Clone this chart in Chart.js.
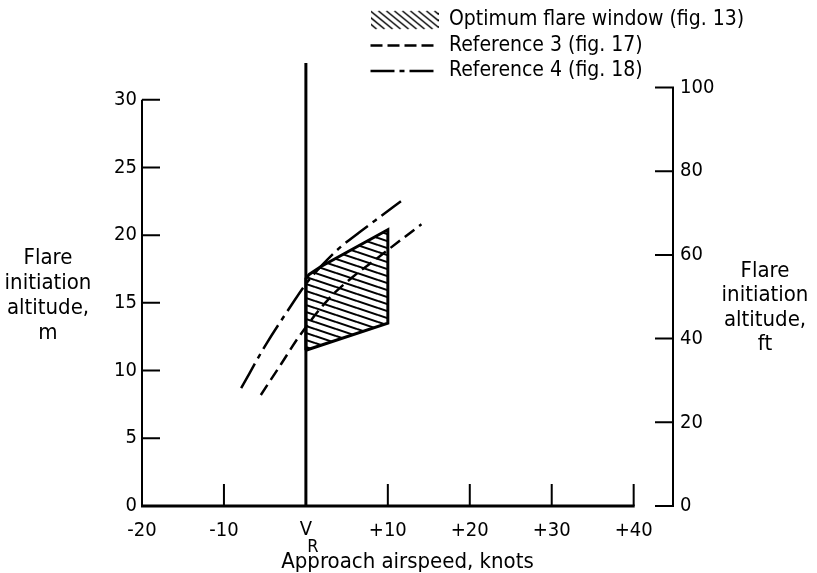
<!DOCTYPE html>
<html>
<head>
<meta charset="utf-8">
<script src="https://cdn.jsdelivr.net/npm/chart.js@4"></script>
<style>
  html, body { margin: 0; padding: 0; background: #fff; }
  #wrap { width: 817px; height: 573px; }
</style>
</head>
<body>
<div id="wrap"><canvas id="flare"></canvas></div>
<script>
// airspeed relative to V_R, knots / flare initiation altitude, m
var speedTicks = [-20, -10, 0, 10, 20, 30, 40];
var altMTicks = [0, 5, 10, 15, 20, 25, 30];
var altFtTicks = [0, 20, 40, 60, 80, 100];

var windowSpeed = [0, 0, 0.4, 1.9, 10, 10, 0];
var windowAlt = [11.5, 16.8, 17.1, 17.7, 20.4, 13.5, 11.5];

var ref3Speed = [-5.5, -3, -0.85, 2.8, 6.1, 8.5, 11.7, 14.1];
var ref3Alt = [8.2, 10.5, 12.5, 15.3, 17.1, 18.2, 19.7, 20.8];

var ref4Speed = [-7.9, -4.9, -1.8, 0, 2, 4, 6.5, 8.5, 11.6];
var ref4Alt = [8.7, 11.9, 14.8, 16.4, 17.8, 19.0, 20.2, 21.1, 22.5];

var vrSpeed = [0, 0];
var vrAlt = [0, 32.7];

var legendText = ['Optimum flare window (fig. 13)', 'Reference 3 (fig. 17)', 'Reference 4 (fig. 18)'];

var FONT = '"DejaVu Sans Condensed", "DejaVu Sans", sans-serif';

function pts(xs, ys) {
  return xs.map(function (v, i) { return { x: v, y: ys[i] }; });
}

// shallow hatching used inside the flare window
function makeHatch() {
  var c = document.createElement('canvas');
  c.width = 21; c.height = 7;
  var g = c.getContext('2d');
  g.strokeStyle = '#000';
  g.lineWidth = 2;
  [-7, 0, 7].forEach(function (dy) {
    g.beginPath();
    g.moveTo(0, dy);
    g.lineTo(21, dy + 7);
    g.stroke();
  });
  return g.createPattern(c, 'repeat');
}

// steeper hatching for the legend swatch
function makeSwatch() {
  var c = document.createElement('canvas');
  c.width = 68; c.height = 20;
  var g = c.getContext('2d');
  g.strokeStyle = '#000';
  g.lineWidth = 1.5;
  for (var i = -24; i < 68; i += 8) {
    g.beginPath();
    g.moveTo(i, 1);
    g.lineTo(i + 22, 19);
    g.stroke();
  }
  return c;
}

var frame = {
  id: 'frame',
  afterLayout: function (chart) {
    // legend column sits over the right half
    var lg = chart.legend;
    var w = lg.right - lg.left, h = lg.bottom - lg.top;
    lg.left = 366;
    lg.right = 366 + w;
    lg.top += 4;
    lg.bottom = lg.top + h;
  },
  beforeDatasetsDraw: function (chart) {
    var ctx = chart.ctx, x = chart.scales.x, y = chart.scales.y, y2 = chart.scales.y2;
    var x0 = x.getPixelForValue(-20), yb = y.getPixelForValue(0), xr = y2.left;
    ctx.save();
    ctx.strokeStyle = '#000';
    ctx.lineCap = 'butt';

    ctx.lineWidth = 2;
    ctx.beginPath();
    ctx.moveTo(x0, y.getPixelForValue(30));
    ctx.lineTo(x0, yb);
    altMTicks.forEach(function (v) {
      if (v === 0) return;
      var p = y.getPixelForValue(v);
      ctx.moveTo(x0, p);
      ctx.lineTo(x0 + 18, p);
    });
    ctx.moveTo(xr, y2.getPixelForValue(0));
    ctx.lineTo(xr, y2.getPixelForValue(100));
    altFtTicks.forEach(function (v) {
      var p = y2.getPixelForValue(v);
      ctx.moveTo(xr + 1, p);
      ctx.lineTo(xr - 18, p);
    });
    speedTicks.forEach(function (v) {
      if (v === -20 || v === 0) return;
      var p = x.getPixelForValue(v);
      ctx.moveTo(p, yb);
      ctx.lineTo(p, yb - 22);
    });
    ctx.stroke();

    ctx.lineWidth = 3;
    ctx.beginPath();
    ctx.moveTo(x0 - 1, yb);
    ctx.lineTo(x.getPixelForValue(40) + 1, yb);
    ctx.stroke();
    ctx.restore();
  },
  afterDraw: function (chart) {
    var ctx = chart.ctx, x = chart.scales.x;
    ctx.save();
    ctx.fillStyle = '#000';
    ctx.font = '20px ' + FONT;
    ctx.textBaseline = 'middle';
    ctx.textAlign = 'center';

    var vx = x.getPixelForValue(0);
    ctx.fillText('V', vx, 530);
    ctx.font = '18px ' + FONT;
    ctx.fillText('R', vx + 7, 547);

    ctx.font = '22px ' + FONT;
    ['Flare', 'initiation', 'altitude,', 'm'].forEach(function (t, i) {
      ctx.fillText(t, 48, 258 + i * 25);
    });
    ['Flare', 'initiation', 'altitude,', 'ft'].forEach(function (t, i) {
      ctx.fillText(t, 765, 271 + i * 24.5);
    });
    ctx.restore();
  }
};

var hatch = makeHatch();
var swatch = makeSwatch();

Chart.defaults.font.family = FONT;
Chart.defaults.font.size = 20;
Chart.defaults.color = '#000';

new Chart(document.getElementById('flare'), {
  type: 'scatter',
  data: {
    datasets: [
      {
        label: legendText[1],
        data: pts(ref3Speed, ref3Alt),
        showLine: true,
        borderColor: '#000',
        borderWidth: 2.5,
        borderDash: [12, 6],
        cubicInterpolationMode: 'monotone',
        pointRadius: 0,
        fill: false
      },
      {
        label: legendText[2],
        data: pts(ref4Speed, ref4Alt),
        showLine: true,
        borderColor: '#000',
        borderWidth: 2.5,
        borderDash: [28, 6, 5, 6],
        cubicInterpolationMode: 'monotone',
        pointRadius: 0,
        fill: false
      },
      {
        label: 'V_R',
        data: pts(vrSpeed, vrAlt),
        showLine: true,
        borderColor: '#000',
        borderWidth: 3,
        pointRadius: 0,
        clip: false,
        fill: false
      },
      {
        label: legendText[0],
        data: pts(windowSpeed, windowAlt),
        showLine: true,
        borderColor: '#000',
        borderWidth: 3,
        borderJoinStyle: 'miter',
        backgroundColor: hatch,
        pointRadius: 0,
        tension: 0,
        fill: 'shape'
      }
    ]
  },
  options: {
    responsive: true,
    maintainAspectRatio: false,
    animation: false,
    layout: { padding: { left: 102, top: 1, right: 0, bottom: 0 } },
    plugins: {
      tooltip: { enabled: false },
      legend: {
        position: 'top',
        align: 'start',
        fullSize: false,
        labels: {
          usePointStyle: true,
          pointStyleWidth: 68,
          boxHeight: 21,
          padding: 4.5,
          font: { size: 21 },
          generateLabels: function () {
            return [
              { text: legendText[0], pointStyle: swatch, fillStyle: 'transparent', strokeStyle: 'transparent', lineWidth: 0, datasetIndex: 3 },
              { text: legendText[1], pointStyle: 'line', fillStyle: '#000', strokeStyle: '#000', lineWidth: 2.5, lineDash: [12, 5], datasetIndex: 0 },
              { text: legendText[2], pointStyle: 'line', fillStyle: '#000', strokeStyle: '#000', lineWidth: 2.5, lineDash: [24, 5, 5, 5], datasetIndex: 1 }
            ];
          }
        }
      }
    },
    scales: {
      x: {
        type: 'linear',
        position: 'bottom',
        min: -20,
        max: 44.8,
        grid: { display: false, drawTicks: false },
        border: { display: false },
        afterBuildTicks: function (s) { s.ticks = speedTicks.map(function (v) { return { value: v }; }); },
        afterFit: function (s) { s.height = 67; },
        ticks: {
          padding: 13,
          maxRotation: 0,
          autoSkip: false,
          callback: function (v) { return v === 0 ? '' : (v > 0 ? '+' + v : String(v)); }
        },
        title: { display: true, text: 'Approach airspeed, knots', padding: { top: 0, bottom: -2 }, font: { size: 22 } }
      },
      y: {
        type: 'linear',
        position: 'left',
        min: 0,
        max: 30.9,
        grid: { display: false, drawTicks: false },
        border: { display: false },
        afterBuildTicks: function (s) { s.ticks = altMTicks.map(function (v) { return { value: v }; }); },
        afterFit: function (s) { s.width = 40; },
        ticks: { padding: 5 }
      },
      y2: {
        type: 'linear',
        position: 'right',
        min: 0,
        max: 100,
        grid: { display: false, drawTicks: false },
        border: { display: false },
        afterBuildTicks: function (s) { s.ticks = altFtTicks.map(function (v) { return { value: v }; }); },
        afterFit: function (s) { s.width = 144; },
        ticks: { padding: 7 }
      }
    }
  },
  plugins: [frame]
});
</script>
</body>
</html>
